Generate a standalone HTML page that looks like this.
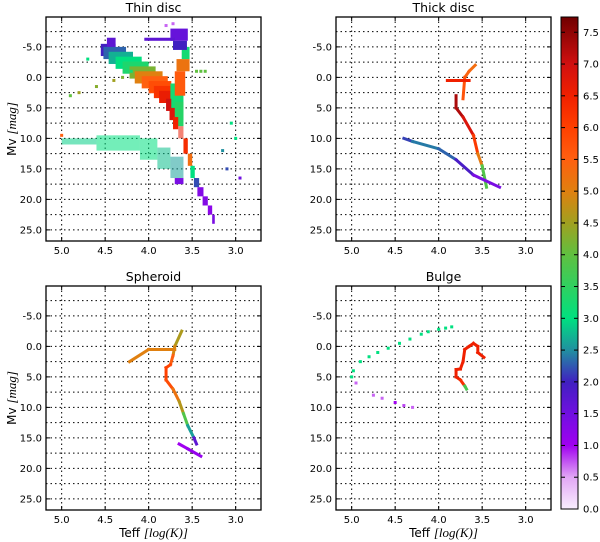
<!DOCTYPE html>
<html><head><meta charset="utf-8"><style>
html,body{margin:0;padding:0;background:#fff;}
svg{display:block;font-family:"DejaVu Sans","Liberation Sans",sans-serif;}
</style></head><body>
<svg id="chart" width="600" height="542" viewBox="0 0 600 542" xmlns="http://www.w3.org/2000/svg"></svg>
<script>
// ---- data ----
const xTicks=[5.0,4.5,4.0,3.5,3.0];
const xTickLabels=["5.0","4.5","4.0","3.5","3.0"];
const yTicks=[-5,0,5,10,15,20,25];
const yTickLabels=["-5.0","0.0","5.0","10.0","15.0","20.0","25.0"];
const yMinor=[-7.5,-2.5,2.5,7.5,12.5,17.5,22.5];
const cbTicks=[0,0.5,1,1.5,2,2.5,3,3.5,4,4.5,5,5.5,6,6.5,7,7.5];
const panelTitles=["Thin disc","Thick disc","Spheroid","Bulge"];
// rect bins: [teffHot, teffCool, mvTop, mvBottom, value]
const thinRects=[
[4.55,4.38,-5.5,-3.5,2.0],[4.48,4.38,-6.5,-5.0,1.7],
[4.52,4.26,-5.0,-3.0,2.3],[4.46,4.18,-4.2,-2.2,2.7],[4.38,4.08,-3.4,-1.4,3.0],
[4.30,4.00,-2.6,-0.6,3.3],[4.22,3.92,-1.8,0.2,4.2],[4.16,3.84,-1.0,1.0,5.0],
[4.08,3.78,-0.2,1.8,5.5],[4.00,3.74,0.6,2.6,5.8],[3.94,3.72,1.4,3.4,6.2],[3.88,3.70,2.2,4.2,6.6],
[3.75,3.60,1,7,3.2],[3.70,3.60,4,8,3.4],
[3.80,3.74,3.5,5.5,7.0],[3.76,3.70,5,7,6.8],[3.72,3.66,6.5,8.5,6.5],
[3.66,3.60,8,10,6.6],[3.60,3.55,10,12.5,6.3],[3.55,3.50,12.5,14.5,5.3],
[3.52,3.47,14.5,16.5,3.0],[3.48,3.42,16.5,18,2.2],[3.44,3.37,18,19.5,1.3],
[3.38,3.32,19.5,21,1.3],[3.32,3.27,21,22.5,1.2],[3.27,3.24,22.5,24,1.4],
[3.70,3.58,-1,3,5.6],[3.68,3.53,-3,-1,5.2],[3.62,3.53,-5,-3,3.2],
[3.75,3.55,-8,-6,1.6],[3.72,3.56,-6,-4.5,2.0],[4.05,3.70,-6.5,-6,1.7],
[5.00,4.60,10,11,2.9],[4.60,4.10,9.5,12,3.0],[4.10,3.90,10,13.5,3.0],
[3.90,3.75,11.5,15,2.8],[3.75,3.60,13,16.5,2.6],[3.70,3.60,16.5,17.5,1.4]
];
const thinDots=[[3.05,7.5,3.0],[3.0,10,3.0],[2.95,16.5,1.5],[3.1,15,2.2],[4.7,-3,3.0],
[4.9,3,4.0],[4.8,2.5,4.5],[4.6,1.5,4.3],[4.4,0.5,4.5],[4.3,0,4.2],[4.2,-1,3.2],
[3.45,-1,4.0],[3.40,-1,4.0],[3.35,-1,4.0],[3.8,-8.5,0.7],[3.72,-8.8,0.7],[5.0,9.5,5.5],[3.15,12,2.5]];
// tracks: [teff, mv, value]
const thickTracks=[
[[3.58,-2,5.3],[3.65,-1,5.3],[3.70,0,5.6],[3.72,3.5,5.8]],
[[3.90,0.5,6.5],[3.65,0.5,6.5]],
[[3.80,3,7.3],[3.80,5,7.3],[3.72,6.5,7.2],[3.60,9.5,6.5],[3.55,12.5,5.7],[3.50,14.5,4.5],[3.45,18,3.2]],
[[4.40,10,1.9],[4.30,10.5,2.4],[4.00,11.7,2.4],[3.80,13.5,2.2],[3.60,16,1.6],[3.30,18,1.2]]
];
const sphTracks=[
[[3.62,-2.5,4.6],[3.70,0,4.6],[3.72,1.5,5.2],[3.75,3,5.8]],
[[4.00,0.5,5.0],[3.70,0.5,5.0]],
[[4.00,0.5,5.0],[4.22,2.5,5.0]],
[[3.75,3,5.8],[3.80,3.5,6.0],[3.80,5.5,6.0],[3.72,7,5.6],[3.65,9,4.8],[3.60,11,4.5],[3.55,13,3.2],[3.48,15,2.0],[3.45,16,1.4]],
[[3.65,16,1.0],[3.55,16.8,1.0],[3.40,18,1.2]]
];
const bulgeTracks=[
[[3.48,1.8,6.5],[3.55,1,6.5],[3.55,0,6.5],[3.60,-0.5,6.5],[3.65,0,6.5],[3.70,0.5,6.5],[3.72,2.5,6.5],[3.75,3.7,6.5],[3.80,3.8,6.5],[3.80,5,6.5],[3.75,5.5,6.5],[3.70,6.5,6.0],[3.68,7,1.5]]
];
const bulgeDots=[[5.0,5,3.0],[4.98,4,3.0],[4.9,2.5,3.0],[4.8,1.7,3.0],[4.7,1,3.0],[4.58,0.3,3.0],[4.45,-0.5,3.0],[4.33,-1.2,3.0],[4.2,-2,3.0],[4.12,-2.4,3.0],[4.0,-2.8,3.0],[3.92,-3,3.0],[3.85,-3.2,3.0],
[4.95,6,0.7],[4.75,8,0.7],[4.65,8.5,0.7],[4.5,9.2,1.0],[4.4,9.7,0.8],[4.3,10,0.7]];

// ---- scales ----
const T_MAX=5.18, PX_T=87, M_MIN=-9.9, PX_M=6.1, W=215, H=224;
const panels=[{x0:46,y0:17},{x0:336,y0:17},{x0:46,y0:286},{x0:336,y0:286}];
const VMAX=7.74;
const stops=[[0,"#f8eefe"],[0.5,"#e2a6f5"],[1.0,"#a000f0"],[1.5,"#7010e0"],[2.0,"#4020c0"],[2.5,"#2090a0"],[3.0,"#00e080"],[3.5,"#30d060"],[4.0,"#60c040"],[4.5,"#a0a020"],[5.0,"#e08010"],[5.5,"#ff6010"],[6.0,"#ff4000"],[6.5,"#f02000"],[7.0,"#d01010"],[7.74,"#700000"]];
function hex(c){return [1,3,5].map(i=>parseInt(c.substr(i,2),16));}
function cmap(v){
  v=Math.max(0,Math.min(VMAX,v));
  for(let i=1;i<stops.length;i++){if(v<=stops[i][0]){const a=stops[i-1],b=stops[i];const f=(v-a[0])/(b[0]-a[0]);const ca=hex(a[1]),cb=hex(b[1]);return "rgb("+ca.map((x,k)=>Math.round(x+(cb[k]-x)*f)).join(",")+")";}}
  return stops[stops.length-1][1];
}
const NS="http://www.w3.org/2000/svg";
const svg=document.getElementById("chart");
function mk(tag,attrs,parent){const e=document.createElementNS(NS,tag);for(const k in attrs)e.setAttribute(k,attrs[k]);(parent||svg).appendChild(e);return e;}

panels.forEach((p,pi)=>{
  const xs=t=>p.x0+(T_MAX-t)*PX_T;
  const ys=m=>p.y0+(m-M_MIN)*PX_M;
  const g=mk("g",{});
  
  
  const title=mk("text",{x:p.x0+W/2,y:p.y0-5,"text-anchor":"middle","font-size":"12.5"},g);
  title.textContent=panelTitles[pi];
  
  
  xTicks.forEach(t=>{const l=mk("line",{x1:xs(t),x2:xs(t),y1:p.y0,y2:p.y0+H,stroke:"#000","stroke-width":1,"stroke-dasharray":"1.5,3"},g);});
  yTicks.concat(yMinor).forEach(m=>{const l=mk("line",{x1:p.x0,x2:p.x0+W,y1:ys(m),y2:ys(m),stroke:"#000","stroke-width":1,"stroke-dasharray":"1.5,3"},g);});
  const clip="c"+pi;
  const cp=mk("clipPath",{id:clip},g);mk("rect",{x:p.x0,y:p.y0,width:W,height:H},cp);
  const dg=mk("g",{"clip-path":"url(#"+clip+")"},g);
  if(pi===0){
    thinRects.forEach(r=>{const wd=r[3]>9&&r[4]>2.5&&r[0]>3.6;
      const e=mk("rect",{x:xs(r[0]),y:ys(r[2]),width:xs(r[1])-xs(r[0]),height:ys(r[3])-ys(r[2]),fill:cmap(r[4]),"fill-opacity":wd?0.55:1},dg);
      });
  }
  const tracks=pi===1?thickTracks:pi===2?sphTracks:pi===3?bulgeTracks:[];
  tracks.forEach(tr=>{for(let i=0;i<tr.length-1;i++){const a=tr[i],b=tr[i+1];
    const e=mk("line",{x1:xs(a[0]),y1:ys(a[1]),x2:xs(b[0]),y2:ys(b[1]),stroke:cmap((a[2]+b[2])/2),"stroke-width":3,"stroke-linecap":"square"},dg);
    }});
  const dots=pi===0?thinDots:pi===3?bulgeDots:[];
  dots.forEach(d=>{const e=mk("rect",{x:xs(d[0])-1.5,y:ys(d[1])-1.5,width:3,height:3,fill:cmap(d[2])},dg);
    });
  xTicks.forEach((t,i)=>{mk("line",{x1:xs(t),x2:xs(t),y1:p.y0+H,y2:p.y0+H-4,stroke:"#000"},g);mk("line",{x1:xs(t),x2:xs(t),y1:p.y0,y2:p.y0+4,stroke:"#000"},g);
    const tx=mk("text",{x:xs(t),y:p.y0+H+13,"text-anchor":"middle","font-size":"10"},g);tx.textContent=xTickLabels[i];
    });
  yTicks.forEach((m,i)=>{mk("line",{x1:p.x0,x2:p.x0+4,y1:ys(m),y2:ys(m),stroke:"#000"},g);mk("line",{x1:p.x0+W,x2:p.x0+W-4,y1:ys(m),y2:ys(m),stroke:"#000"},g);
    const tx=mk("text",{x:p.x0-4,y:ys(m)+3.5,"text-anchor":"end","font-size":"10"},g);tx.textContent=yTickLabels[i];
    });
  const fr=mk("rect",{x:p.x0,y:p.y0,width:W,height:H,fill:"none",stroke:"#000","stroke-width":1.3},g);
  
  if(pi%2===0){const yl=mk("text",{x:0,y:0,"text-anchor":"middle","font-size":"12",transform:"translate(16,"+(p.y0+H/2)+") rotate(-90)"},g);
    yl.innerHTML='Mv <tspan font-family="Liberation Serif,serif" font-style="italic" font-size="13">[mag]</tspan>';
    }
  if(pi>=2){const xl=mk("text",{x:p.x0+W/2,y:537,"text-anchor":"middle","font-size":"12"},g);
    xl.innerHTML='Teff <tspan font-family="Liberation Serif,serif" font-style="italic" font-size="13">[log(K)]</tspan>';
    }
});
const cb=mk("g",{});


const cbX=561,cbW=17,cbTop=17,cbBot=509;
const defs=mk("defs",{},cb);
const lg=mk("linearGradient",{id:"cbg",x1:0,y1:1,x2:0,y2:0},defs);
stops.forEach(s=>mk("stop",{offset:s[0]/VMAX,"stop-color":s[1]},lg));
mk("rect",{x:cbX,y:cbTop,width:cbW,height:cbBot-cbTop,fill:"url(#cbg)",stroke:"#000","stroke-width":1},cb);
const cy=v=>cbBot-(v/VMAX)*(cbBot-cbTop);
cbTicks.forEach(v=>{mk("line",{x1:cbX+cbW,x2:cbX+cbW-4,y1:cy(v),y2:cy(v),stroke:"#000"},cb);mk("line",{x1:cbX,x2:cbX+4,y1:cy(v),y2:cy(v),stroke:"#000"},cb);
  const t=mk("text",{x:cbX+cbW+5,y:cy(v)+3.5,"font-size":"10"},cb);t.textContent=v.toFixed(1);
  });
</script>
</body></html>
